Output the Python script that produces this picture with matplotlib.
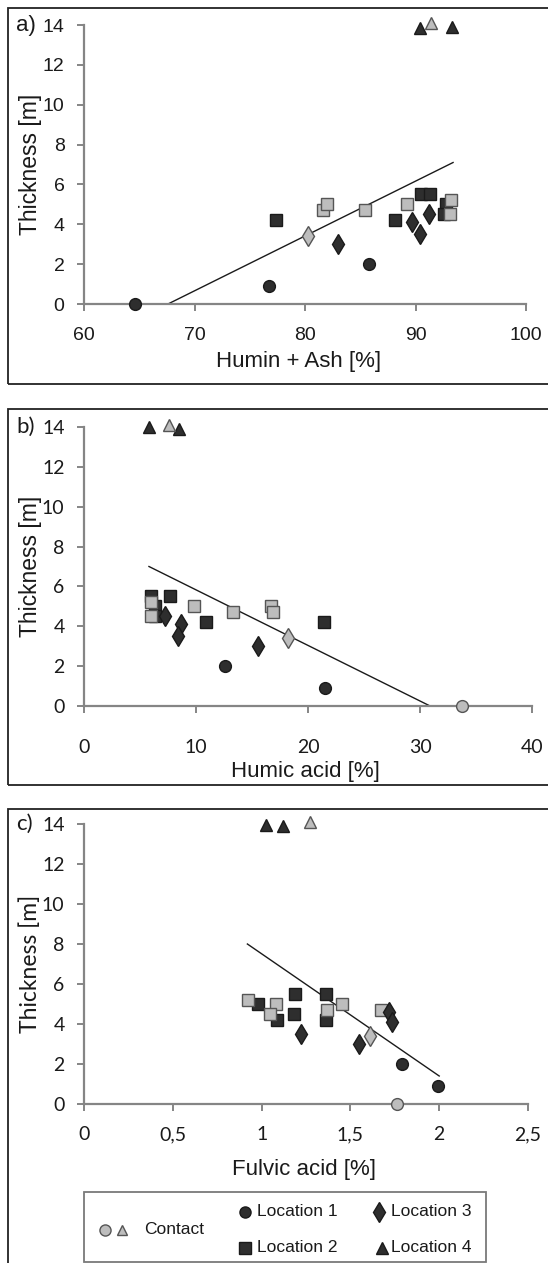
import matplotlib
matplotlib.use("Agg")
import matplotlib.pyplot as plt
from matplotlib.patches import Rectangle
from matplotlib.ticker import FuncFormatter

# ---------------- data ----------------
# Panel a: Humin + Ash [%]
a_loc1_x = [64.6, 76.7, 85.8]
a_loc1_y = [0.0, 0.9, 2.0]
a_loc2_x = [77.4, 88.1, 90.5, 91.3, 92.8, 92.6]
a_loc2_y = [4.2, 4.2, 5.5, 5.5, 5.0, 4.5]
a_loc3_x = [83.0, 89.7, 90.4, 91.2]
a_loc3_y = [3.0, 4.1, 3.5, 4.5]
a_loc4_x = [90.4, 93.3]
a_loc4_y = [13.85, 13.9]
a_con_circ_x = []
a_con_circ_y = []
a_con_sq_x = [81.6, 82.0, 85.4, 89.2, 93.2, 93.1]
a_con_sq_y = [4.7, 5.0, 4.7, 5.0, 5.2, 4.5]
a_con_di_x = [80.3]
a_con_di_y = [3.4]
a_con_tri_x = [91.4]
a_con_tri_y = [14.1]
a_trend_x = [67.6, 93.4]
a_trend_y = [0.0, 7.1]

# Panel b: Humic acid [%]
b_loc1_x = [12.6, 21.5]
b_loc1_y = [2.0, 0.9]
b_loc2_x = [6.3, 6.3, 6.0, 7.7, 10.9, 21.4]
b_loc2_y = [5.0, 4.5, 5.5, 5.5, 4.2, 4.2]
b_loc3_x = [7.2, 8.7, 8.4, 15.5]
b_loc3_y = [4.5, 4.1, 3.5, 3.0]
b_loc4_x = [5.8, 8.5]
b_loc4_y = [14.0, 13.9]
b_con_circ_x = [33.75]
b_con_circ_y = [0.0]
b_con_sq_x = [6.0, 6.0, 9.8, 13.3, 16.7, 16.9]
b_con_sq_y = [5.2, 4.5, 5.0, 4.7, 5.0, 4.7]
b_con_di_x = [18.2]
b_con_di_y = [3.4]
b_con_tri_x = [7.6]
b_con_tri_y = [14.1]
b_trend_x = [5.8, 30.9]
b_trend_y = [7.0, 0.0]

# Panel c: Fulvic acid [%]
c_loc1_x = [1.79, 1.995]
c_loc1_y = [2.0, 0.9]
c_loc2_x = [0.977, 1.19, 1.18, 1.36, 1.087, 1.36]
c_loc2_y = [5.0, 5.5, 4.5, 5.5, 4.2, 4.2]
c_loc3_x = [1.72, 1.736, 1.22, 1.55]
c_loc3_y = [4.6, 4.1, 3.5, 3.0]
c_loc4_x = [1.022, 1.12]
c_loc4_y = [13.97, 13.88]
c_con_circ_x = [1.764]
c_con_circ_y = [0.0]
c_con_sq_x = [0.924, 1.08, 1.05, 1.37, 1.45, 1.67]
c_con_sq_y = [5.2, 5.0, 4.5, 4.7, 5.0, 4.7]
c_con_di_x = [1.61]
c_con_di_y = [3.4]
c_con_tri_x = [1.272]
c_con_tri_y = [14.08]
c_trend_x = [0.92, 2.0]
c_trend_y = [8.0, 1.4]

y_ticks = [0, 2, 4, 6, 8, 10, 12, 14]
a_xticks = [60, 70, 80, 90, 100]
b_xticks = [0, 10, 20, 30, 40]
c_xticks = [0, 0.5, 1, 1.5, 2, 2.5]
x_labels = ["Humin + Ash [%]", "Humic acid [%]", "Fulvic acid [%]"]
panel_tags = ["a)", "b)", "c)"]
legend_labels = ["Contact", "Location 1", "Location 2", "Location 3", "Location 4"]

# ---------------- style ----------------
W, H = 548, 1263
DPI = 100
fig = plt.figure(figsize=(W / DPI, H / DPI), dpi=DPI)
fig.patch.set_facecolor("white")

DARK = "#2e2e2e"
DARK_EDGE = "#1a1a1a"
GRAY = "#bdbdbd"
GRAY_EDGE = "#555555"
AXC = "#858585"
ARIAL = "Liberation Sans"
CALIB = "Lato"


def fx(px):
    return px / W


def fy(py):
    return 1 - py / H


def add_axes_px(left, top, right, bottom):
    return fig.add_axes([fx(left), fy(bottom), fx(right) - fx(left), fy(top) - fy(bottom)])


def frame(top, bottom):
    fig.patches.append(Rectangle((fx(8), fy(bottom)), fx(W + 20) - fx(8), fy(top) - fy(bottom),
                                 transform=fig.transFigure, fill=False,
                                 edgecolor="#222222", linewidth=1.3, zorder=0))


frame(8, 384)
frame(409, 785)
frame(809, H + 20)

panels = [
    dict(top=25, bottom=304, right=526, xlim=(60, 100), xt=a_xticks, tickfont=ARIAL, ylabfont=ARIAL,
         loc1=(a_loc1_x, a_loc1_y), loc2=(a_loc2_x, a_loc2_y), loc3=(a_loc3_x, a_loc3_y),
         loc4=(a_loc4_x, a_loc4_y), cc=(a_con_circ_x, a_con_circ_y), cs=(a_con_sq_x, a_con_sq_y),
         cd=(a_con_di_x, a_con_di_y), ct=(a_con_tri_x, a_con_tri_y), tr=(a_trend_x, a_trend_y),
         xlab=(299, 361), xpad=11.5),
    dict(top=427, bottom=706, right=532, xlim=(0, 40), xt=b_xticks, tickfont=CALIB, ylabfont=ARIAL,
         loc1=(b_loc1_x, b_loc1_y), loc2=(b_loc2_x, b_loc2_y), loc3=(b_loc3_x, b_loc3_y),
         loc4=(b_loc4_x, b_loc4_y), cc=(b_con_circ_x, b_con_circ_y), cs=(b_con_sq_x, b_con_sq_y),
         cd=(b_con_di_x, b_con_di_y), ct=(b_con_tri_x, b_con_tri_y), tr=(b_trend_x, b_trend_y),
         xlab=(305, 771), xpad=19),
    dict(top=824, bottom=1104, right=528, xlim=(0, 2.5), xt=c_xticks, tickfont=CALIB, ylabfont=CALIB,
         loc1=(c_loc1_x, c_loc1_y), loc2=(c_loc2_x, c_loc2_y), loc3=(c_loc3_x, c_loc3_y),
         loc4=(c_loc4_x, c_loc4_y), cc=(c_con_circ_x, c_con_circ_y), cs=(c_con_sq_x, c_con_sq_y),
         cd=(c_con_di_x, c_con_di_y), ct=(c_con_tri_x, c_con_tri_y), tr=(c_trend_x, c_trend_y),
         xlab=(304, 1169), xpad=11),
]


def fmt_comma(v, pos):
    return ("%g" % v).replace(".", ",")


for i, p in enumerate(panels):
    ax = add_axes_px(84, p["top"], p["right"], p["bottom"])
    ax.set_facecolor("none")
    ax.set_xlim(*p["xlim"])
    ax.set_ylim(0, 14)
    for s in ["top", "right"]:
        ax.spines[s].set_visible(False)
    for s in ["left", "bottom"]:
        ax.spines[s].set_color(AXC)
        ax.spines[s].set_linewidth(1.6)
    ax.set_yticks(y_ticks)
    ax.set_xticks(p["xt"])
    ax.xaxis.set_major_formatter(FuncFormatter(fmt_comma))
    ax.tick_params(axis="both", colors=AXC, length=5, width=1.4, direction="out",
                   labelsize=14, labelcolor="#1a1a1a")
    ax.tick_params(axis="y", pad=9)
    ax.tick_params(axis="x", pad=p["xpad"])
    for lab in ax.get_xticklabels() + ax.get_yticklabels():
        lab.set_fontfamily(p["tickfont"])

    # trend line
    ax.plot(*p["tr"], color="#1a1a1a", lw=1.0, zorder=2)

    common = dict(linestyle="none", clip_on=False, zorder=3, markeredgewidth=1.0)
    ax.plot(*p["loc1"], marker="o", ms=8.5, mfc=DARK, mec=DARK_EDGE, **common)
    ax.plot(*p["cc"], marker="o", ms=8.5, mfc=GRAY, mec=GRAY_EDGE, **common)
    ax.plot(*p["loc2"], marker="s", ms=8.5, mfc=DARK, mec=DARK_EDGE, **common)
    ax.plot(*p["cs"], marker="s", ms=8.5, mfc=GRAY, mec=GRAY_EDGE, **common)
    ax.plot(*p["loc3"], marker="d", ms=10.5, mfc=DARK, mec=DARK_EDGE, **common)
    ax.plot(*p["cd"], marker="d", ms=10.5, mfc=GRAY, mec=GRAY_EDGE, **common)
    ax.plot(*p["loc4"], marker="^", ms=9, mfc=DARK, mec=DARK_EDGE, **common)
    ax.plot(*p["ct"], marker="^", ms=9, mfc=GRAY, mec=GRAY_EDGE, **common)

    fig.text(fx(30), fy((p["top"] + p["bottom"]) / 2), "Thickness [m]", fontsize=16.5,
             family=p["ylabfont"], color="#1a1a1a", rotation=90, ha="center", va="center")
    fig.text(fx(p["xlab"][0]), fy(p["xlab"][1]), x_labels[i], fontsize=16, family=ARIAL,
             ha="center", va="center", color="#1a1a1a")
    fig.text(fx(16), fy(p["top"]), panel_tags[i], fontsize=16,
             family=ARIAL if i == 0 else CALIB, ha="left", va="center", color="#1a1a1a")

# ---------------- legend ----------------
fig.patches.append(Rectangle((fx(84), fy(1262)), fx(486) - fx(84), fy(1192) - fy(1262),
                             transform=fig.transFigure, fill=False, edgecolor="#7a7a7a",
                             linewidth=1.3))
lax = fig.add_axes([0, 0, 1, 1])
lax.set_xlim(0, W)
lax.set_ylim(H, 0)
lax.axis("off")
lax.patch.set_alpha(0)
leg_items = [
    (105, 1230, "o", 8, GRAY, GRAY_EDGE),
    (122, 1230, "^", 7.5, GRAY, GRAY_EDGE),
    (245, 1212, "o", 8, DARK, DARK_EDGE),
    (245, 1248, "s", 8, DARK, DARK_EDGE),
    (379, 1212, "d", 10, DARK, DARK_EDGE),
    (382, 1248, "^", 8, DARK, DARK_EDGE),
]
for x, y, m, ms, fc, ec in leg_items:
    lax.plot([x], [y], marker=m, ms=ms, mfc=fc, mec=ec, mew=1.0, linestyle="none")
leg_text_pos = [(144, 1230), (257, 1212), (257, 1248), (391, 1212), (391, 1248)]
for (x, y), t in zip(leg_text_pos, legend_labels):
    lax.text(x, y, t, fontsize=12.5, family=ARIAL, ha="left", va="center", color="#1a1a1a")

fig.savefig("out.png", dpi=DPI, facecolor="white")
